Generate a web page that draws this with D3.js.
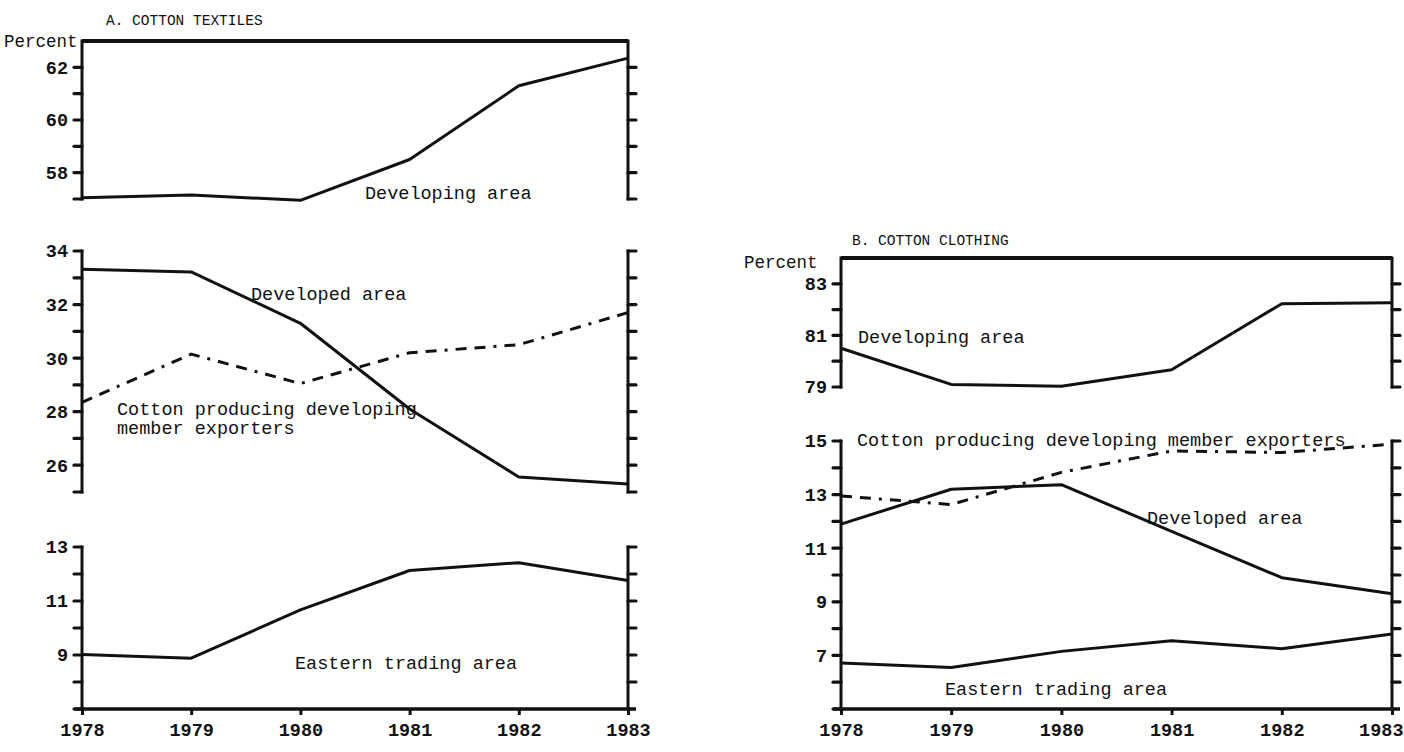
<!DOCTYPE html>
<html><head><meta charset="utf-8">
<script src="https://cdn.jsdelivr.net/npm/d3@7"></script>
<style>
html,body{margin:0;padding:0;background:#fff;}
svg text{font-family:"Liberation Mono","DejaVu Sans Mono",monospace;fill:#111;}
</style></head>
<body>
<svg id="c" width="1404" height="752"></svg>
<script>
// ---- data ----
const years = [1978, 1979, 1980, 1981, 1982, 1983];
// A. Cotton textiles (percent)
const textDeveloping = [57.05, 57.15, 56.95, 58.5, 61.3, 62.35];
const textDeveloped  = [33.32, 33.22, 31.3, 28.1, 25.56, 25.3];
const textCottonProd = [28.35, 30.15, 29.05, 30.2, 30.5, 31.7];
const textEastern    = [9.02, 8.88, 10.67, 12.13, 12.42, 11.76];
// B. Cotton clothing (percent)
const clothDeveloping = [80.5, 79.1, 79.03, 79.67, 82.23, 82.27];
const clothCottonProd = [12.95, 12.63, 13.83, 14.63, 14.57, 14.88];
const clothDeveloped  = [11.9, 13.2, 13.37, 11.63, 9.9, 9.3];
const clothEastern    = [6.72, 6.55, 7.15, 7.55, 7.25, 7.8];
// tick labels
const textTopTicks = [58, 60, 62];
const textMidTicks = [26, 28, 30, 32, 34];
const textBotTicks = [9, 11, 13];
const clothTopTicks = [79, 81, 83];
const clothBotTicks = [7, 9, 11, 13, 15];

const svg = d3.select("#c");
const INK = "#111";

function drawAxisV(g, y, x, dmin, dmax, side, labels, opts) {
  opts = opts || {};
  g.append("line").attr("x1", x).attr("x2", x)
    .attr("y1", y(dmax)).attr("y2", y(dmin))
    .attr("stroke", INK).attr("stroke-width", opts.w || 3).attr("stroke-linecap","square");
  const ticks = d3.range(dmin, dmax + 0.001, 1).filter(t => !(opts.skip||[]).includes(t));
  const len = opts.len || 8;
  g.selectAll(null).data(ticks).join("line")
    .attr("x1", x).attr("x2", side === "left" ? x - len : x + len)
    .attr("y1", d => y(d)).attr("y2", d => y(d))
    .attr("stroke", INK).attr("stroke-width", 3.2).attr("stroke-linecap","round");
  if (labels) {
    g.selectAll(null).data(labels).join("text")
      .attr("x", x - len - 6).attr("y", d => y(d)).attr("dy", "0.35em")
      .attr("text-anchor", "end").style("font-size", "18.5px").style("font-weight", "bold")
      .text(d => d);
  }
}

function drawLine(g, x, y, vals, dashed) {
  const line = d3.line().x((d, i) => x(years[i])).y(d => y(d));
  const p = g.append("path").datum(vals).attr("d", line)
    .attr("fill", "none").attr("stroke", INK).attr("stroke-width", 3)
    .attr("stroke-linejoin", "round");
  if (dashed) p.attr("stroke-dasharray", "11,8,11,8,3,8");
}

function label(g, x, y, txt, size) {
  g.append("text").attr("x", x).attr("y", y).attr("dy", "0.35em")
    .style("font-size", (size || 18.5) + "px").text(txt);
}

function styleXAxis(gx, x) {
  gx.select(".domain").attr("stroke", INK).attr("stroke-width", 3.5)
    .attr("d", `M${x(1978)-8},0H${x(1983)+8}`);
  gx.selectAll(".tick line").attr("stroke", INK).attr("stroke-width", 3);
  gx.selectAll(".tick text").style("font-size", "18.5px").style("font-weight", "bold").attr("fill", INK)
    .style("font-family", "Liberation Mono, monospace");
}

// ---------- Panel A ----------
const gA = svg.append("g");
const xA = d3.scaleLinear().domain([1978, 1983]).range([82, 628]);
const yA1 = d3.scaleLinear().domain([57, 63]).range([199, 41]);
const yA2 = d3.scaleLinear().domain([25, 34]).range([492, 251]);
const yA3 = d3.scaleLinear().domain([7, 13]).range([709, 547]);

label(gA, 106, 20, "A. COTTON TEXTILES", 14.5);
label(gA, 4, 41, "Percent", 17.5);

gA.append("line").attr("x1", xA(1978)).attr("x2", xA(1983)).attr("y1", yA1(63)).attr("y2", yA1(63))
  .attr("stroke", INK).attr("stroke-width", 4);
drawAxisV(gA, yA1, xA(1978), 57, 63, "left", textTopTicks, {skip:[63]});
drawAxisV(gA, yA1, xA(1983), 57, 63, "right", null, {skip:[63]});
drawLine(gA, xA, yA1, textDeveloping, false);
label(gA, 365, 193, "Developing area");

drawAxisV(gA, yA2, xA(1978), 25, 34, "left", textMidTicks);
drawAxisV(gA, yA2, xA(1983), 25, 34, "right", null);
drawLine(gA, xA, yA2, textDeveloped, false);
drawLine(gA, xA, yA2, textCottonProd, true);
label(gA, 251, 294, "Developed area");
label(gA, 117, 409, "Cotton producing developing");
label(gA, 117, 428, "member exporters");

drawAxisV(gA, yA3, xA(1978), 7, 13, "left", textBotTicks);
drawAxisV(gA, yA3, xA(1983), 7, 13, "right", null, {skip:[7]});
drawLine(gA, xA, yA3, textEastern, false);
label(gA, 295, 663, "Eastern trading area");

const axA = d3.axisBottom(xA).tickValues(years).tickFormat(d3.format("d")).tickSize(6).tickPadding(8);
const gxA = gA.append("g").attr("transform", `translate(0,${yA3(7)})`).call(axA);
styleXAxis(gxA, xA);

// ---------- Panel B ----------
const gB = svg.append("g");
const xB = d3.scaleLinear().domain([1978, 1983]).range([841, 1392]);
const yB1 = d3.scaleLinear().domain([79, 84]).range([387, 258]);
const yB2 = d3.scaleLinear().domain([5, 15]).range([709, 441]);

label(gB, 852, 240, "B. COTTON CLOTHING", 14.5);
label(gB, 744, 262, "Percent", 17.5);

gB.append("line").attr("x1", xB(1978)).attr("x2", xB(1983)).attr("y1", yB1(84)).attr("y2", yB1(84))
  .attr("stroke", INK).attr("stroke-width", 4);
drawAxisV(gB, yB1, xB(1978), 79, 84, "left", clothTopTicks, {skip:[84]});
drawAxisV(gB, yB1, xB(1983), 79, 84, "right", null, {skip:[84]});
drawLine(gB, xB, yB1, clothDeveloping, false);
label(gB, 858, 337, "Developing area");

drawAxisV(gB, yB2, xB(1978), 5, 15, "left", clothBotTicks);
drawAxisV(gB, yB2, xB(1983), 5, 15, "right", null, {skip:[5]});
drawLine(gB, xB, yB2, clothDeveloped, false);
drawLine(gB, xB, yB2, clothEastern, false);
drawLine(gB, xB, yB2, clothCottonProd, true);
label(gB, 857, 440, "Cotton producing developing member exporters");
label(gB, 1147, 518, "Developed area");
label(gB, 945, 689, "Eastern trading area");

const axB = d3.axisBottom(xB).tickValues(years).tickFormat(d3.format("d")).tickSize(6).tickPadding(8);
const gxB = gB.append("g").attr("transform", `translate(0,${yB2(5)})`).call(axB);
styleXAxis(gxB, xB);
// keep the last year label inside the page edge
gxB.selectAll(".tick text").filter(d => d === 1983).attr("text-anchor", "end").attr("x", 1403 - xB(1983));
</script>
</body></html>
